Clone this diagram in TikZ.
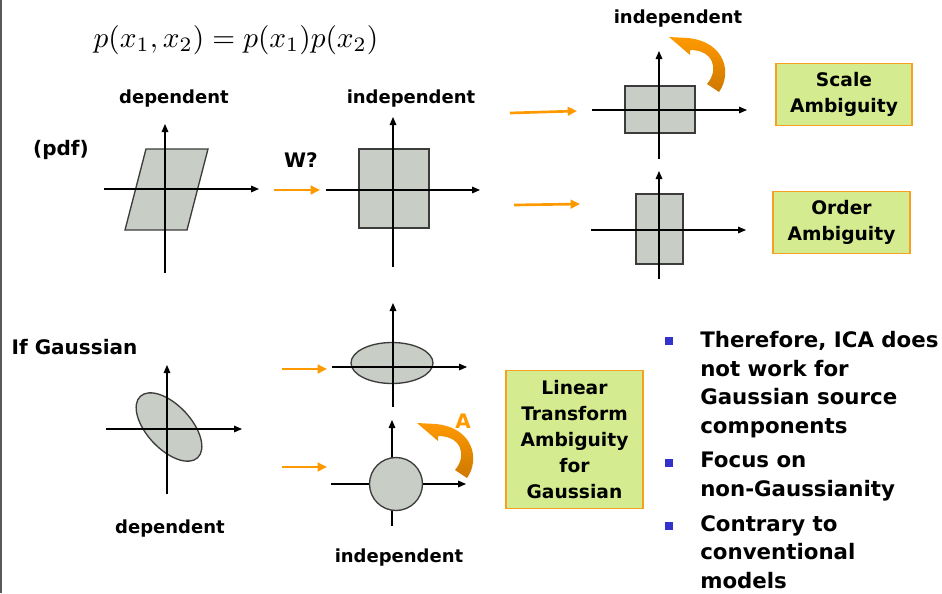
\documentclass[tikz,border=0pt]{standalone}
\usepackage[no-math]{fontspec}
\usepackage{graphicx}
\setmainfont{DejaVu Sans}
\usetikzlibrary{arrows.meta}
\definecolor{pdfgray}{RGB}{200,205,197}
\definecolor{pdfedge}{RGB}{60,60,60}
\definecolor{arrorange}{RGB}{255,153,0}
\definecolor{arrdark}{RGB}{205,120,0}
\definecolor{boxgreen}{RGB}{212,236,143}
\definecolor{boxedge}{RGB}{245,160,30}
\definecolor{bulletblue}{RGB}{51,51,204}
\tikzset{
  axis/.style={line width=0.8pt,-{Triangle[length=6pt,width=5pt]}},
  density/.style={draw=pdfedge,line width=1pt,fill=pdfgray},
  mapto/.style={draw=arrorange,line width=2pt,-{Triangle[length=7pt,width=6.5pt]}},
  plottitle/.style={font=\bfseries\fontsize{13.5}{15}\selectfont},
  ambig/.style={draw=boxedge,fill=boxgreen,line width=0.9pt,align=center,
    font=\bfseries\fontsize{14}{19.5}\selectfont},
  bullet/.style={fill=bulletblue,minimum size=6pt,inner sep=0pt},
  listitem/.style={anchor=north west,align=left,inner sep=0pt,
    font=\bfseries\fontsize{16}{21.5}\selectfont},
  turnarrow/.pic={
    \shade[top color=arrorange,bottom color=arrdark]
      (0,0) .. controls (13,-18) and (7,-50) .. (-31,-54) -- (-50,-55) -- (-29,-37)
      -- (-29,-42) .. controls (-5,-42) and (0,-22) .. (-12,-8) -- cycle;
  }
}
\begin{document}
\begin{tikzpicture}[x=0.75pt,y=-0.75pt]
\useasboundingbox (0,0) rectangle (942,593);
\draw[pdfedge!85,line width=1.5pt] (1,0)--(1,593);
\node (joint) at (236,40) {\scalebox{2.2}{$p(x_1,x_2)=p(x_1)p(x_2)$}};
% dependent pdf
\node[plottitle] (deptop) at (174,99) {dependent};
\node[font=\bfseries\fontsize{15}{18}\selectfont] (pdf) at (61,150) {(pdf)};
\draw[density] (146,149)--(208,149)--(187,230)--(125,230)--cycle;
\draw[axis] (104,189)--(259,189);
\draw[axis] (165,273)--(165,124);
\node[font=\bfseries\fontsize{15}{18}\selectfont] (wq) at (301,160) {W?};
\draw[mapto] (274,190)--(320,190);
% independent pdf
\node[plottitle] (indtop) at (411,99) {independent};
\draw[density] (359,149) rectangle (429,228);
\draw[axis] (326,190)--(480,190);
\draw[axis] (393,267)--(393,117);
\draw[mapto] (510,113)--(577,111);
\draw[mapto] (514,205)--(580,204);
% scaled
\node[plottitle] (indscale) at (678,19) {independent};
\draw[density] (625,86) rectangle (695,133);
\draw[axis] (592,110)--(747,110);
\draw[axis] (659,159)--(659,51);
\pic at (719,92) {turnarrow};
\node[ambig,minimum width=102pt,minimum height=47pt] (scaleamb) at (844,94.5) {Scale\\Ambiguity};
% permuted
\draw[density] (636,194) rectangle (683,264);
\draw[axis] (591,230)--(746,230);
\draw[axis] (659,279)--(659,171);
\node[ambig,minimum width=102.75pt,minimum height=46pt] (orderamb) at (841.5,222.5) {Order\\Ambiguity};
% gaussian case
\node[anchor=west,font=\bfseries\fontsize{15}{18}\selectfont] (ifgauss) at (7,347) {If Gaussian};
\draw[density,shift={(169,427)},rotate=-47] (0,0) ellipse [x radius=42,y radius=22];
\draw[axis] (106,429)--(242,429);
\draw[axis] (167,494)--(167,365);
\node[plottitle] (depbot) at (170,529) {dependent};
\draw[mapto] (282,369)--(327,369);
\draw[mapto] (282,467)--(327,467);
\draw[density] (392,363) ellipse [x radius=41,y radius=20.5];
\draw[axis] (332,367)--(467,367);
\draw[axis] (393,407)--(393,303);
\draw[axis] (331,484)--(466,484);
\draw[axis] (392,526)--(392,420);
\draw[density] (396,484) circle [radius=26.5];
\pic at (467,478) {turnarrow};
\node[text=arrorange,font=\bfseries\fontsize{15}{18}\selectfont] (rotA) at (463,421) {A};
\node[plottitle] (indbot) at (399,558) {independent};
\node[ambig,minimum width=102.75pt,minimum height=104pt] (linamb) at (574.5,439.5)
  {Linear\\Transform\\Ambiguity\\for\\Gaussian};
% remarks
\node[bullet] (dot1) at (669,341) {};
\node[bullet] (dot2) at (669,462.5) {};
\node[bullet] (dot3) at (669,525.5) {};
\node[listitem] (item1) at (700,331) {Therefore, ICA does\\not work for\\Gaussian source\\components};
\node[listitem] (item2) at (700,452) {Focus on\\non-Gaussianity};
\node[listitem] (item3) at (700,515) {Contrary to\\conventional\\models};
\end{tikzpicture}
\end{document}
